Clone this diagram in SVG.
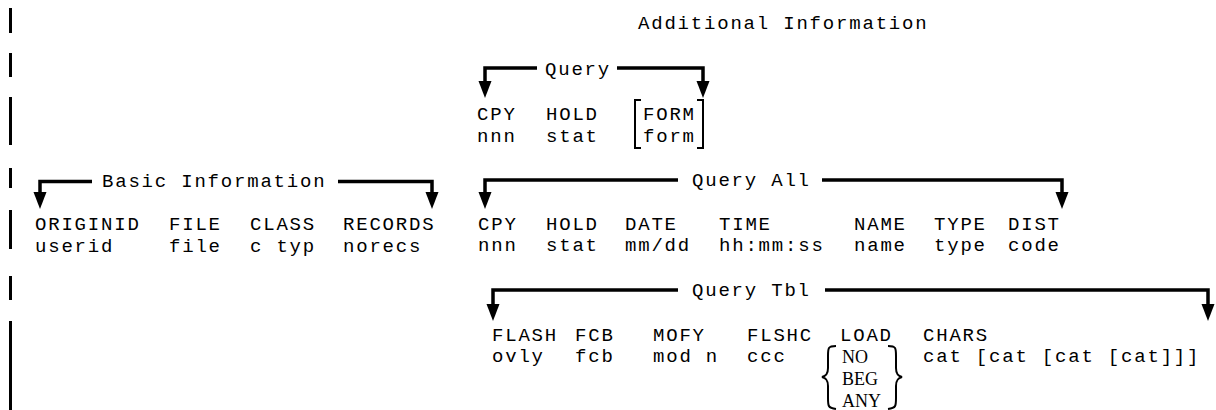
<svg xmlns="http://www.w3.org/2000/svg" width="1216" height="410" viewBox="0 0 1216 410">
<style>
text{font-family:"Liberation Mono","Courier New",monospace;font-size:19px;letter-spacing:1.8px;fill:#000}
.ser{font-family:"Liberation Serif","Times New Roman",serif;font-size:18px;letter-spacing:0}
.con{fill:none;stroke:#000;stroke-width:3.5}
.bar{stroke:#000;stroke-width:3}
.brk{fill:none;stroke:#000;stroke-width:2}
</style>
<defs>
<marker id="ah" markerUnits="userSpaceOnUse" markerWidth="18" markerHeight="14" viewBox="0 0 18 14" refX="6" refY="7" orient="auto">
<path d="M0,0.5 L17,7 L0,13.5 z" fill="#000"/>
</marker>
</defs>
<rect width="1216" height="410" fill="#fff"/>
<g id="margin">
<line class="bar" x1="10.5" y1="8" x2="10.5" y2="33"/>
<line class="bar" x1="10.5" y1="53" x2="10.5" y2="77"/>
<line class="bar" x1="10.5" y1="97" x2="10.5" y2="145"/>
<line class="bar" x1="10.5" y1="168" x2="10.5" y2="188"/>
<line class="bar" x1="10.5" y1="210" x2="10.5" y2="249"/>
<line class="bar" x1="10.5" y1="276" x2="10.5" y2="300"/>
<line class="bar" x1="10.5" y1="321" x2="10.5" y2="410"/>
</g>
<g id="title">
<text x="638" y="29">Additional Information</text>
</g>
<g id="connectors">
<path class="con" d="M537,68 H485 V87" marker-end="url(#ah)"/>
<path class="con" d="M617,68 H703 V87" marker-end="url(#ah)"/>
<path class="con" d="M92,181.5 H40 V198" marker-end="url(#ah)"/>
<path class="con" d="M338,181.5 H432 V198" marker-end="url(#ah)"/>
<path class="con" d="M678,180 H485 V198" marker-end="url(#ah)"/>
<path class="con" d="M822,180 H1062 V198" marker-end="url(#ah)"/>
<path class="con" d="M678,290 H493 V310" marker-end="url(#ah)"/>
<path class="con" d="M825,290 H1208 V310" marker-end="url(#ah)"/>
</g>
<g id="query">
<text x="545" y="75">Query</text>
<text x="477" y="120">CPY</text>
<text x="477" y="142">nnn</text>
<text x="546" y="120">HOLD</text>
<text x="546" y="142">stat</text>
<path class="brk" d="M641,100 H635 V148 H641"/>
<text x="643" y="120">FORM</text>
<text x="643" y="142">form</text>
<path class="brk" d="M697,100 H703 V148 H697"/>
</g>
<g id="basic">
<text x="102" y="187">Basic Information</text>
<text x="35" y="230">ORIGINID</text>
<text x="35" y="252">userid</text>
<text x="169" y="230">FILE</text>
<text x="169" y="252">file</text>
<text x="250" y="230">CLASS</text>
<text x="250" y="252">c typ</text>
<text x="343" y="230">RECORDS</text>
<text x="343" y="252">norecs</text>
</g>
<g id="queryall">
<text x="692" y="186">Query All</text>
<text x="478" y="230">CPY</text>
<text x="478" y="251">nnn</text>
<text x="546" y="230">HOLD</text>
<text x="546" y="251">stat</text>
<text x="625" y="230">DATE</text>
<text x="625" y="251">mm/dd</text>
<text x="719" y="230">TIME</text>
<text x="719" y="251">hh:mm:ss</text>
<text x="854" y="230">NAME</text>
<text x="854" y="251">name</text>
<text x="934" y="230">TYPE</text>
<text x="934" y="251">type</text>
<text x="1008" y="230">DIST</text>
<text x="1008" y="251">code</text>
</g>
<g id="querytbl">
<text x="692" y="296">Query Tbl</text>
<text x="492" y="341">FLASH</text>
<text x="492" y="362">ovly</text>
<text x="575" y="341">FCB</text>
<text x="575" y="362">fcb</text>
<text x="653" y="341">MOFY</text>
<text x="653" y="362">mod n</text>
<text x="747" y="341">FLSHC</text>
<text x="747" y="362">ccc</text>
<text x="840" y="341">LOAD</text>
<path class="brk" d="M836,346 C828,346 828,348 828,356 V368 C828,374 826,376 822,377 C826,378 828,380 828,386 V398 C828,406 828,408 836,409"/>
<text class="ser" x="842" y="363">NO</text>
<text class="ser" x="842" y="385">BEG</text>
<text class="ser" x="842" y="407">ANY</text>
<path class="brk" d="M888,346 C896,346 896,348 896,356 V368 C896,374 898,376 902,377 C898,378 896,380 896,386 V398 C896,406 896,408 888,409"/>
<text x="923" y="341">CHARS</text>
<text x="923" y="362">cat [cat [cat [cat]]]</text>
</g>
</svg>
